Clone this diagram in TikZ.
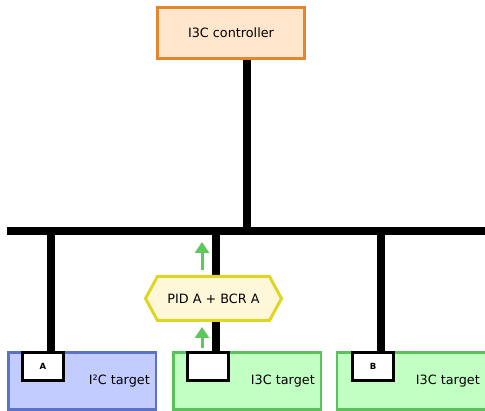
\documentclass[tikz,border=0pt]{standalone}
\usepackage{fontspec}
\setmainfont{DejaVu Sans}
\usetikzlibrary{arrows.meta}
\definecolor{ctrlfill}{HTML}{FFE6CC}
\definecolor{ctrldraw}{HTML}{E3862E}
\definecolor{ictwofill}{HTML}{C2CCFF}
\definecolor{ictwodraw}{HTML}{5A72C8}
\definecolor{ithreefill}{HTML}{C2FFC2}
\definecolor{ithreedraw}{HTML}{5AC25A}
\definecolor{hexfill}{HTML}{FFF8D8}
\definecolor{hexdraw}{HTML}{DDD624}
\definecolor{arrowgreen}{HTML}{5CC85C}
\tikzset{
  txt/.style={font=\fontsize{12.8}{15}\selectfont, inner sep=0pt},
  ctrlbox/.style={draw=ctrldraw, fill=ctrlfill, line width=3pt, minimum width=147pt, minimum height=51pt, txt},
  targetbox/.style={line width=2.5pt, minimum width=147.5pt, minimum height=57pt, inner sep=0pt},
  addrbox/.style={draw=black, fill=white, line width=3pt, minimum width=41pt, minimum height=28pt, inner sep=0pt, font=\fontsize{8.5}{10}\selectfont\bfseries},
  wire/.style={line width=7.5pt, black},
  busline/.style={line width=8pt, black},
  flow/.style={arrowgreen, line width=3pt, -{Triangle[width=14pt,length=11pt]}},
  hexshape/.style={draw=hexdraw, fill=hexfill, line width=3pt, line join=miter},
}
\begin{document}
\begin{tikzpicture}[x=1pt,y=-1pt]
\useasboundingbox (0,0) rectangle (485,411);

% controller and its connection to the bus
\node[ctrlbox] (ctrl) at (231,33) {I3C controller};
\coordinate (busL) at (7,231);
\coordinate (busR) at (490,231);
\coordinate (join) at (247,231);
\draw[wire] (ctrl.south -| join) -- (join);

% targets
\node[targetbox, draw=ictwodraw, fill=ictwofill] (tA) at (82,381) {};
\node[targetbox, draw=ithreedraw, fill=ithreefill] (tM) at (247,381) {};
\node[targetbox, draw=ithreedraw, fill=ithreefill, minimum width=152pt] (tB) at (413,381) {};

\node[txt, anchor=east] (lA) at (150,381) {I²C target};
\node[txt, anchor=east] (lM) at (315,381) {I3C target};
\node[txt, anchor=east] (lB) at (480,381) {I3C target};

% drop points onto the bus
\coordinate (dA) at (51,231);
\coordinate (dM) at (216,231);
\coordinate (dB) at (381,231);

\node[addrbox] (aA) at (43,366.5) {A};
\node[addrbox] (aB) at (373,366.5) {B};

\draw[wire] (dA) -- (dA |- aA.north);
\draw[wire] (dM) -- (dM |- aA.north);
\draw[wire] (dB) -- (dB |- aB.north);

% address assignment message
\node[txt] (hex) at (213.5,298.5) {\phantom{PID A + BCR A}};
\draw[hexshape] ([xshift=-68pt]hex.center) -- ([xshift=-56pt,yshift=-22pt]hex.center)
  -- ([xshift=56pt,yshift=-22pt]hex.center) -- ([xshift=68pt]hex.center)
  -- ([xshift=56pt,yshift=22pt]hex.center) -- ([xshift=-56pt,yshift=22pt]hex.center) -- cycle;
\node[txt] (hextext) at (hex) {PID A + BCR A};

\coordinate (arrowx) at (202,0);
\draw[flow] (arrowx |- 0,348) -- (arrowx |- 0,327);
\draw[flow] (arrowx |- 0,270) -- (arrowx |- 0,242);

\node[addrbox] (aM) at (208,366.5) {};

% bus on top of the wires
\draw[busline] (busL) -- (busR);
\end{tikzpicture}
\end{document}
